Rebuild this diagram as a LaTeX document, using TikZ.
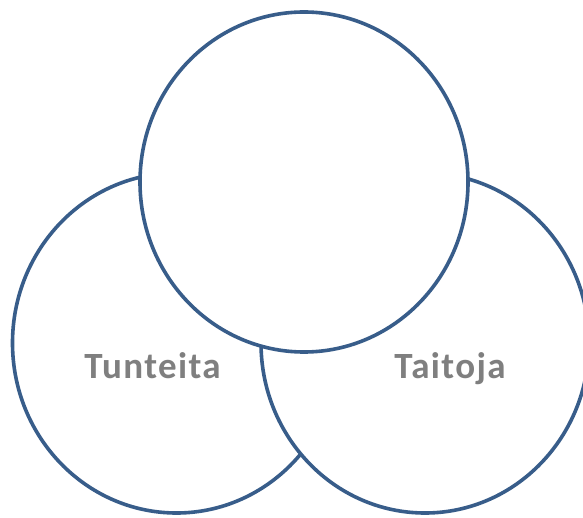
\documentclass[tikz,border=0pt]{standalone}
\usepackage{fontspec}
\setmainfont{Carlito}
\newfontfamily\labelfont[LetterSpace=3.8]{Carlito}
\usetikzlibrary{shapes.geometric}
\definecolor{ringblue}{RGB}{56,93,138}
\definecolor{labelgray}{RGB}{127,127,127}
\tikzset{
  ring/.style={ellipse, draw=ringblue, line width=3.6pt, fill=white,
    minimum width=328pt, minimum height=340pt, inner sep=0pt},
  lbl/.style={font=\labelfont\bfseries\fontsize{37}{40}\selectfont, text=labelgray, anchor=base, inner sep=0pt}
}
\begin{document}
\begin{tikzpicture}[x=1pt,y=1pt]
\useasboundingbox (0,0) rectangle (583,-518);
\clip (0,0) rectangle (583,-518);
\node[ring] (left) at (176.5,-343) {};
\node[ring] (right) at (425,-343) {};
\node[ring] (top) at (304,-182) {};
\node[lbl] (tunteita) at (152.5,-378) {Tunteita};
\node[lbl] (taitoja) at (450,-378) {Taitoja};
\end{tikzpicture}
\end{document}
